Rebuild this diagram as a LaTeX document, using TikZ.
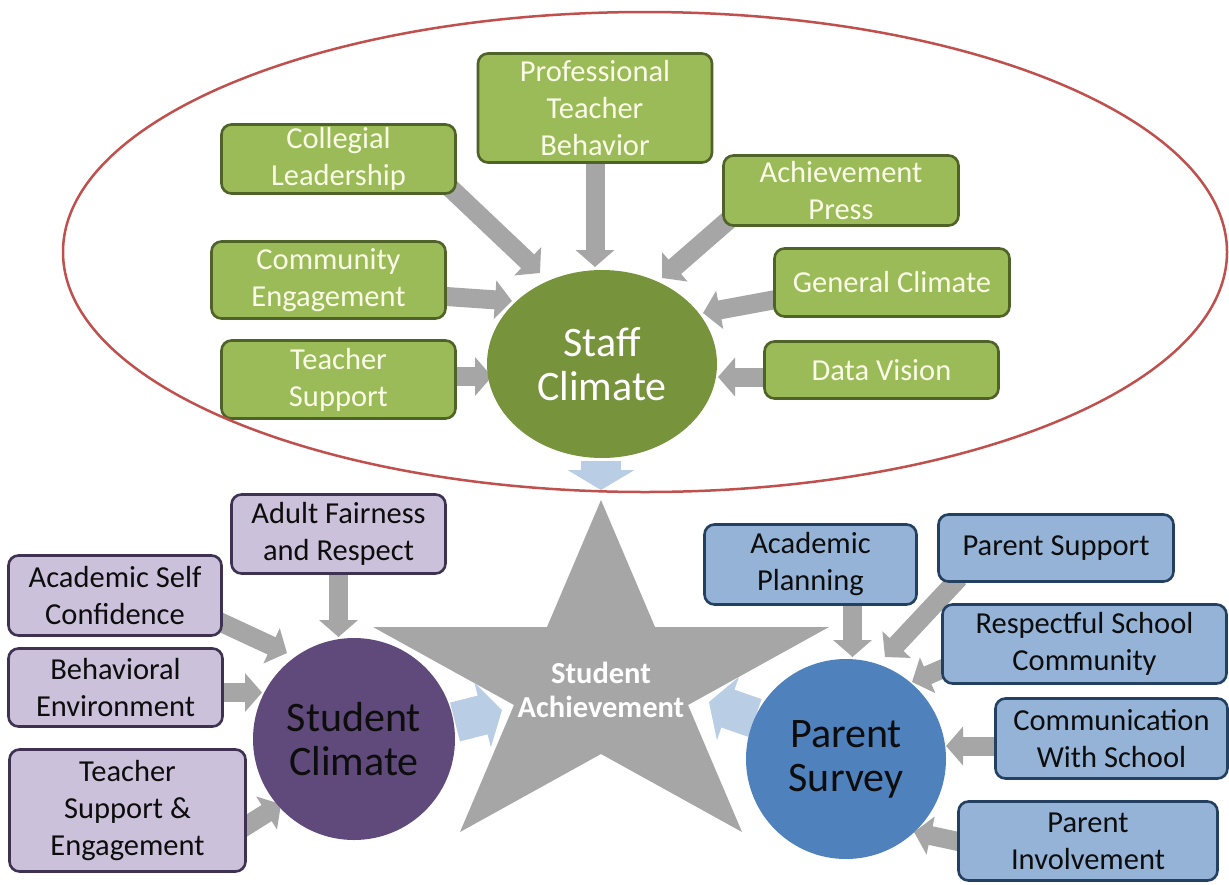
\documentclass[tikz,border=0pt]{standalone}
\usepackage{fontspec}
\setmainfont{Carlito}
\usetikzlibrary{shapes.geometric,arrows.meta,calc,backgrounds}
\definecolor{gfill}{RGB}{155,187,89}
\definecolor{gline}{RGB}{79,98,40}
\definecolor{gtext}{RGB}{250,252,232}
\definecolor{pfill}{RGB}{204,193,218}
\definecolor{pline}{RGB}{63,49,81}
\definecolor{bfill}{RGB}{149,179,215}
\definecolor{bline}{RGB}{36,64,97}
\definecolor{staffc}{RGB}{119,147,60}
\definecolor{studc}{RGB}{96,74,123}
\definecolor{parc}{RGB}{79,129,189}
\definecolor{arrg}{RGB}{166,166,166}
\definecolor{arrb}{RGB}{185,205,229}
\definecolor{ellc}{RGB}{192,80,77}
\definecolor{darktext}{RGB}{13,13,13}
\begin{document}
\begin{tikzpicture}[x=1pt,y=-1pt,
  box/.style={rectangle, rounded corners=10pt, line width=2.6pt, inner sep=0pt, align=center, font=\fontsize{30.5}{37}\selectfont},
  greenbox/.style={box, fill=gfill, draw=gline, text=gtext},
  purplebox/.style={box, fill=pfill, draw=pline, text=darktext},
  bluebox/.style={box, fill=bfill, draw=bline, text=darktext},
  hub/.style={inner sep=0pt, align=center, font=\fontsize{42}{44}\selectfont},
  garrow/.style={draw=arrg, line width=19pt, -{Triangle[width=38pt,length=17pt]}},
  lbarrow/.style={draw=arrb, line width=40pt, -{Triangle[width=66pt,length=20pt]}},
]
\useasboundingbox (0,0) rectangle (1229,884);

% ---------- staff group ----------
\node[greenbox, minimum width=234pt, minimum height=109pt] (prof) at (595,108) {Professional\\Teacher\\Behavior};
\node[greenbox, minimum width=234pt, minimum height=69pt] (coll) at (338.5,159) {Collegial\\Leadership};
\node[greenbox, minimum width=235pt, minimum height=70pt] (ach) at (841,190.5) {Achievement\\Press};
\node[greenbox, minimum width=234pt, minimum height=77pt] (comm) at (328.5,280) {Community\\Engagement};
\node[greenbox, minimum width=235pt, minimum height=68pt] (gen) at (892,282.5) {General Climate};
\node[greenbox, minimum width=234pt, minimum height=78pt] (tsup) at (338.5,379.5) {Teacher\\Support};
\node[greenbox, minimum width=234pt, minimum height=57pt] (data) at (881.5,370) {Data Vision};
\node[hub, ellipse, fill=staffc, text=white, minimum width=230pt, minimum height=188pt] (staff) at (602,364) {Staff\\Climate};

% ---------- student group ----------
\node[purplebox, minimum width=214pt, minimum height=79pt] (adult) at (338.5,534) {Adult Fairness\\and Respect};
\node[purplebox, minimum width=213pt, minimum height=80pt] (acself) at (115,595.5) {Academic Self\\Confidence};
\node[purplebox, minimum width=214pt, minimum height=78pt] (behav) at (115.5,687.5) {Behavioral\\Environment};
\node[purplebox, minimum width=236pt, minimum height=122pt] (tse) at (127.5,810.5) {Teacher\\Support \&\\Engagement};
\node[hub, circle, fill=studc, text=darktext, minimum size=202pt] (student) at (354,739) {Student\\Climate};

% ---------- parent group ----------
\node[bluebox, minimum width=212pt, minimum height=80pt] (acplan) at (810.5,564.5) {Academic\\Planning};
\node[bluebox, minimum width=235pt, minimum height=67pt] (psup) at (1056,548) {Parent Support};
\node[bluebox, minimum width=284pt, minimum height=79pt] (resp) at (1084.5,644) {Respectful School\\Community};
\node[bluebox, minimum width=232pt, minimum height=80pt] (commws) at (1111.5,738.5) {Communication\\With School};
\node[bluebox, minimum width=259pt, minimum height=79pt] (pinv) at (1088,841) {Parent\\Involvement};
\node[hub, circle, fill=parc, text=darktext, minimum size=200pt] (parent) at (846,759) {Parent\\Survey};

% ---------- star ----------
\coordinate (startop) at (601,500);
\coordinate (starc) at (601,684);
\node[inner sep=0pt, align=center, text=white, font=\bfseries\fontsize{30.5}{34}\selectfont] (sa) at (601,690) {Student\\Achievement};

\begin{pgfonlayer}{background}
\fill[white] (0,0) rectangle (1229,884);
\fill[arrg] (startop) -- (655,627) -- (829,627) -- (688,705) -- (742,832) -- (601,754) -- (460,832) -- (514,705) -- (373,627) -- (547,627) -- cycle;
% staff arrows
\draw[garrow] ($(coll.south east)+(-12,-12)$) -- ($(staff)+(-62,-91)$);
\draw[garrow] ($(prof.south)+(0,-5)$) -- ($(staff)+(-7,-97)$);
\draw[garrow] ($(ach.south west)+(10,-10)$) -- ($(staff)+(60,-86)$);
\draw[garrow] ($(comm.east)+(-8,16)$) -- ($(staff)+(-90,-63)$);
\draw[garrow] ($(gen.west)+(8,16)$) -- ($(staff)+(101,-51)$);
\draw[garrow] ($(tsup.east)+(-5,-3)$) -- ($(staff)+(-110,12.5)$);
\draw[garrow] ($(data.west)+(5,7)$) -- ($(staff)+(116,13)$);
% student arrows
\draw[garrow] ($(adult.south)+(0,-5)$) -- ($(student)+(-15.5,-102)$);
\draw[garrow] ($(acself.east)+(-8,24)$) -- ($(student)+(-67,-86)$);
\draw[garrow] ($(behav.east)+(-5,5)$) -- ($(student)+(-92,-46.5)$);
\draw[garrow] ($(tse.east)+(-8,20)$) -- ($(student)+(-73,65)$);
% parent arrows
\draw[garrow] ($(acplan.south)+(42,-5)$) -- ($(parent)+(6.5,-102)$);
\draw[garrow] ($(psup.south west)+(22,-5)$) -- ($(parent)+(39,-102)$);
\draw[garrow] ($(resp.west)+(8,22)$) -- ($(parent)+(66,-77)$);
\draw[garrow] ($(commws.west)+(5,7.5)$) -- ($(parent)+(100,-13)$);
\draw[garrow] ($(pinv.west)+(8,2)$) -- ($(parent)+(68,73)$);
% light blue arrows into the star
\draw[lbarrow] ($(staff.south)+(-1,3)$) -- ($(startop)+(0,-10)$);
\draw[lbarrow] ($(student)+(101,-17)$) -- ($(starc)+(-99,26)$);
\draw[lbarrow] ($(parent)+(-91,-41)$) -- ($(starc)+(108,18)$);
\end{pgfonlayer}

\draw[ellc, line width=2.5pt] (645,252) ellipse [x radius=582pt, y radius=240pt];
\end{tikzpicture}
\end{document}
